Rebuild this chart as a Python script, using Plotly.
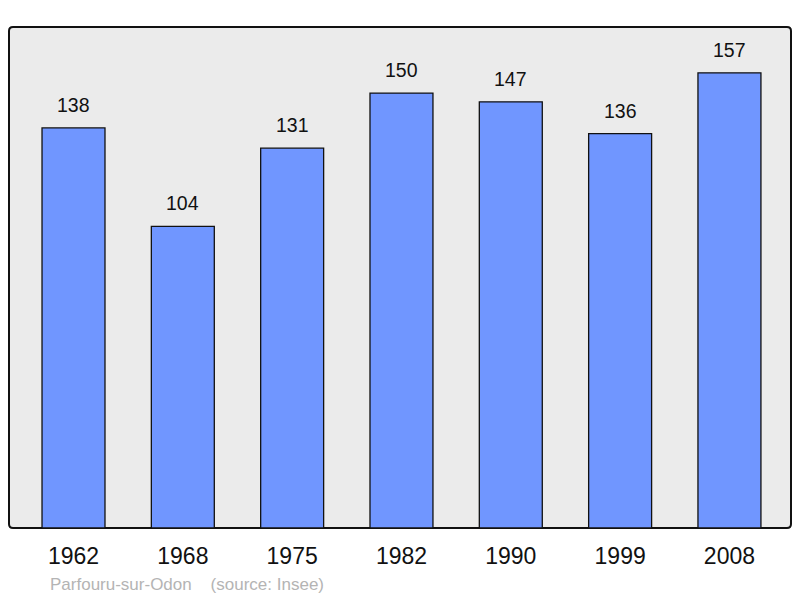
import plotly.graph_objects as go

years = ["1962", "1968", "1975", "1982", "1990", "1999", "2008"]
population = [138, 104, 131, 150, 147, 136, 157]
caption = "Parfouru-sur-Odon    (source: Insee)"

W, H = 800, 598
ml, mr, mt, mb = 9, 9, 27, 70
pw, ph = W - ml - mr, H - mt - mb
rx, ry = 4 / pw, 4 / ph
frame = (f"M {rx},0 L {1-rx},0 Q 1,0 1,{ry} L 1,{1-ry} Q 1,1 {1-rx},1 "
         f"L {rx},1 Q 0,1 0,{1-ry} L 0,{ry} Q 0,0 {rx},0 Z")

fig = go.Figure()
fig.add_trace(go.Bar(
    x=years, y=population, width=0.576,
    marker=dict(color="#7096ff", line=dict(color="#111111", width=1.3)),
    hoverinfo="skip",
))
for i, v in enumerate(population):
    fig.add_annotation(x=i, y=v, text=str(v), showarrow=False, yanchor="bottom",
                       yshift=10, font=dict(family="Liberation Sans, Arial", size=19.5, color="#111"))

fig.update_layout(
    width=W, height=H,
    margin=dict(l=ml, r=mr, t=mt, b=mb),
    paper_bgcolor="white", plot_bgcolor="rgba(0,0,0,0)",
    showlegend=False,
    font=dict(family="Liberation Sans, Arial", color="#111"),
    xaxis=dict(type="category", range=[-0.59, 6.563], showgrid=False, zeroline=False,
               tickfont=dict(size=23, color="#111"), ticks="", ticklabelstandoff=12),
    yaxis=dict(range=[0, 172.8], showgrid=False, zeroline=False, showticklabels=False, ticks=""),
    shapes=[dict(type="path", xref="paper", yref="paper", path=frame, layer="below",
                 fillcolor="#ebebeb", line=dict(color="#111", width=2))],
)
fig.add_annotation(xref="paper", yref="paper", x=0, xshift=39, y=0, yshift=-56, xanchor="left",
                   yanchor="middle", text=caption, showarrow=False,
                   font=dict(size=17, color="#b4b4b4"))
fig.write_html("out.html", config={"displayModeBar": False},
               post_script="document.body.style.margin='0';document.body.style.overflow='hidden';")
